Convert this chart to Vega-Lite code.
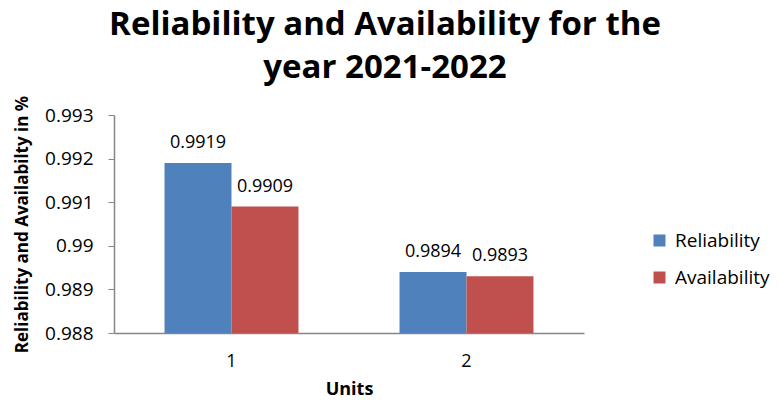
{
  "$schema": "https://vega.github.io/schema/vega-lite/v6.json",
  "width": 470,
  "height": 218,
  "autosize": {"type": "none"},
  "padding": {"left": 114, "top": 115, "right": 195, "bottom": 70},
  "background": "white",
  "title": {
    "text": ["Reliability and Availability for the", "year 2021-2022"],
    "font": "Open Sans",
    "fontSize": 33,
    "fontWeight": "bold",
    "color": "#000000",
    "lineHeight": 43,
    "anchor": "middle",
    "dx": 36,
    "offset": 10
  },
  "data": {
    "values": [
      {"unit": "1", "metric": "Reliability", "value": 0.9919},
      {"unit": "1", "metric": "Availability", "value": 0.9909},
      {"unit": "2", "metric": "Reliability", "value": 0.9894},
      {"unit": "2", "metric": "Availability", "value": 0.9893}
    ]
  },
  "encoding": {
    "x": {
      "field": "unit",
      "type": "nominal",
      "scale": {"paddingInner": 0.43, "paddingOuter": 0.215},
      "axis": {
        "title": "Units",
        "titleFont": "Open Sans",
        "titleFontSize": 18,
        "titleFontWeight": "bold",
        "titleColor": "#000000",
        "titlePadding": 10,
        "labelAngle": 0,
        "labelFont": "Open Sans",
        "labelFontSize": 18,
        "labelColor": "#000000",
        "labelPadding": 19,
        "ticks": false,
        "domainColor": "#868686",
        "domainWidth": 1.5
      }
    },
    "xOffset": {"field": "metric", "type": "nominal", "sort": ["Reliability", "Availability"], "scale": {"paddingInner": 0, "paddingOuter": 0}},
    "y": {
      "field": "value",
      "type": "quantitative",
      "scale": {"domain": [0.988, 0.993], "zero": false, "nice": false},
      "axis": {
        "title": "Reliability and Availabilty in %",
        "titleFont": "Open Sans",
        "titleFontSize": 17,
        "titleFontWeight": "bold",
        "titleColor": "#000000",
        "titlePadding": 13,
        "values": [0.988, 0.989, 0.99, 0.991, 0.992, 0.993],
        "format": ".3~f",
        "labelFont": "Open Sans",
        "labelFontSize": 19,
        "labelColor": "#000000",
        "labelPadding": 15,
        "tickSize": 6,
        "tickColor": "#868686",
        "domainColor": "#868686",
        "domainWidth": 1.5,
        "grid": false
      }
    }
  },
  "layer": [
    {
      "mark": {"type": "bar", "clip": true},
      "encoding": {
        "color": {
          "field": "metric",
          "type": "nominal",
          "sort": ["Reliability", "Availability"],
          "scale": {"domain": ["Reliability", "Availability"], "range": ["#4F81BD", "#C0504D"]},
          "legend": {
            "title": null,
            "orient": "none",
            "legendX": 536,
            "legendY": 116,
            "symbolType": "square",
            "symbolSize": 144,
            "symbolStrokeWidth": 0,
            "labelFont": "Open Sans",
            "labelFontSize": 19,
            "labelColor": "#000000",
            "rowPadding": 17,
            "labelOffset": 6
          }
        }
      }
    },
    {
      "mark": {"type": "text", "baseline": "bottom", "dy": -11, "font": "Open Sans", "fontSize": 18, "color": "#000000"},
      "encoding": {
        "text": {"field": "value", "type": "quantitative", "format": ".4f"}
      }
    }
  ],
  "config": {"view": {"stroke": null}}
}
